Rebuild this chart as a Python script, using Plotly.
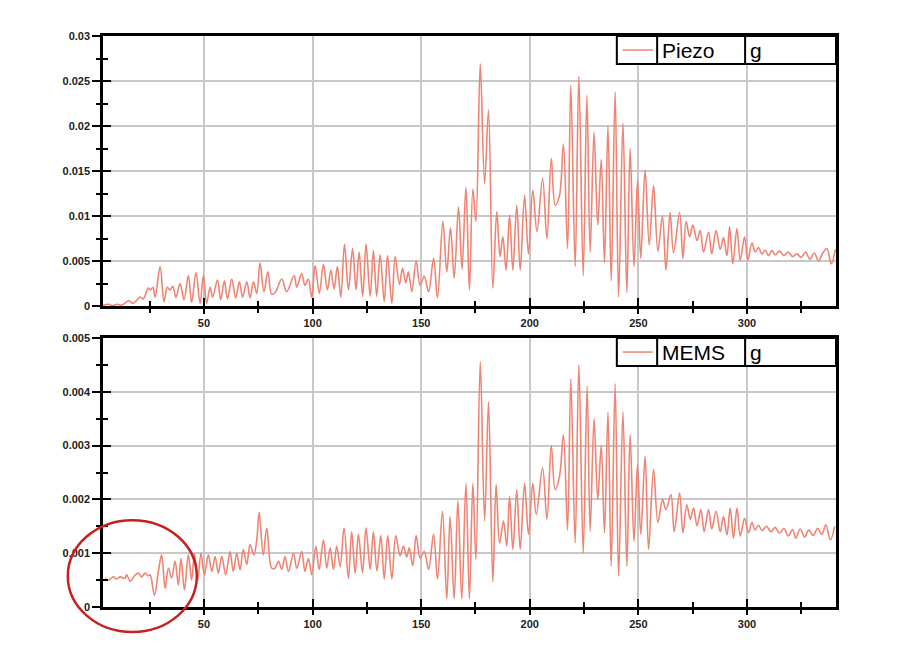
import plotly.graph_objects as go

# Piezo signal, peaks and troughs
piezo_x = [3.6, 6, 8, 10, 12, 14, 15.5, 17, 18.5, 20.5, 22, 24.4, 25.5, 26.5, 27.5, 29.8, 31.6, 33.1, 34.3, 35.6,
           37.1, 39, 40.8, 42.8, 44.3, 46.3, 48.2, 49.7, 51.2, 52.8, 54, 56.2, 57.7, 59.4, 60.8, 62.8, 64.6, 66.3,
           67.8, 69.7, 71.2, 72.8, 74.3, 75.8, 77.6, 79.4, 81.2, 83, 85.8, 88.1, 91.5, 92.7, 95, 96.5, 98, 99.6,
           101.2, 103.1, 105, 106.8, 108.4, 109.9, 111.4, 113, 114.7, 116.5, 118.4, 120, 121.4, 123.1, 124.6,
           126.5, 128, 129.5, 131.1, 133, 134.5, 136.5, 138, 140, 141.4, 142.9, 144.1, 145.7, 147.7, 149.5, 151.4,
           153.4, 155.7, 157.5, 160, 161.8, 163.5, 165.2, 167.2, 168.8, 170.6, 172.2, 173.8, 175.2, 177.2, 179.2,
           181, 183, 184.8, 186.3, 187.6, 189.1, 190.7, 192.2, 194, 195.6, 197.6, 199.4, 201.4, 203.3, 205.9,
           207.9, 209.9, 211.7, 213.7, 215.5, 217.4, 218.9, 220.9, 222.6, 224.6, 226.3, 227.8, 229.6, 231.3,
           232.9, 234.4, 236, 237.5, 239.3, 240.9, 242.9, 244.7, 246.2, 248, 249.6, 251.1, 253.1, 255, 257, 259,
           261.1, 262.7, 264.6, 266.2, 269, 270.5, 272, 273.6, 275.1, 277, 278.5, 280, 282.3, 283.8, 285.8, 287.7,
           289.2, 290.8, 292, 293.5, 295.4, 296.9, 298.9, 300.4, 302.3, 303.8, 305.3, 306.9, 308.4, 310, 311.5,
           313, 315, 317, 319, 321, 323, 325, 327, 329, 331, 333, 334.7, 336.8, 338.8, 340.7]
piezo_y = [0.0001, 0.0002, 0.00005, 0.0002, 0.0001, 0.0004, 0.0006, 0.0003, 0.0005, 0.001, 0.0008, 0.002, 0.0018,
           0.0021, 0.001, 0.0044, 0.0005, 0.0021, 0.0018, 0.0022, 0.001, 0.0025, 0.0007, 0.0034, 0.0004, 0.0037,
           0.0003, 0.0034, 0.0003, 0.0021, 0.001, 0.0029, 0.0007, 0.0028, 0.0008, 0.003, 0.0009, 0.0027, 0.001,
           0.0027, 0.0009, 0.0027, 0.0014, 0.0048, 0.0016, 0.0038, 0.0013, 0.0016, 0.003, 0.0016, 0.0034, 0.0021,
           0.0036, 0.0023, 0.003, 0.001, 0.0045, 0.0014, 0.0046, 0.0018, 0.004, 0.0019, 0.0044, 0.001, 0.0069,
           0.0018, 0.0064, 0.0018, 0.006, 0.0011, 0.0069, 0.0011, 0.0062, 0.0011, 0.0057, 0.0005, 0.0056, 0.0003,
           0.0055, 0.0024, 0.0042, 0.0026, 0.0038, 0.0016, 0.005, 0.0023, 0.0033, 0.0016, 0.0053, 0.0009, 0.0094,
           0.0038, 0.0087, 0.0031, 0.011, 0.0041, 0.0132, 0.0018, 0.013, 0.0094, 0.0269, 0.0136, 0.0218, 0.002,
           0.0105, 0.0055, 0.0077, 0.004, 0.0101, 0.004, 0.0112, 0.004, 0.0123, 0.0058, 0.0129, 0.0083, 0.0142,
           0.0075, 0.0164, 0.0112, 0.0123, 0.018, 0.0064, 0.0245, 0.0044, 0.0255, 0.0034, 0.0234, 0.006, 0.0193,
           0.009, 0.0163, 0.0048, 0.02, 0.0028, 0.0238, 0.001, 0.0203, 0.0015, 0.0175, 0.0044, 0.014, 0.0053,
           0.0151, 0.0068, 0.0134, 0.0061, 0.01, 0.004, 0.0104, 0.0059, 0.0104, 0.0053, 0.0094, 0.0077, 0.009,
           0.0073, 0.0084, 0.006, 0.0082, 0.0058, 0.0084, 0.0063, 0.0076, 0.0056, 0.0088, 0.0047, 0.0086, 0.0051,
           0.0077, 0.0051, 0.007, 0.006, 0.0065, 0.0058, 0.0062, 0.0056, 0.0062, 0.0057, 0.0061, 0.0056, 0.006,
           0.0055, 0.0058, 0.0054, 0.006, 0.0052, 0.0059, 0.005, 0.0058, 0.0064, 0.0047, 0.0063]

# MEMS signal, peaks and troughs
mems_x = [4.4, 6, 8.3, 9.8, 11.3, 13.6, 14.4, 16, 18.2, 19.8, 21.3, 22.9, 24.4, 25.2, 27.2, 29, 30.5, 32.1, 33.6,
          35.1, 36.7, 38.2, 39.4, 41, 42.8, 44.3, 45.6, 47.1, 48.6, 50.2, 52, 53.6, 55.1, 56.6, 58.2, 60, 62, 63.5,
          65.1, 66.6, 68.1, 69.7, 71.2, 73, 74.3, 75.4, 77.3, 78.9, 81.2, 82.7, 84.3, 85.8, 87.3, 88.9, 91.2, 92.7,
          95, 96.5, 98.1, 99.6, 101.5, 103, 105, 106.5, 108.1, 109.6, 111.1, 112.7, 114.5, 116.5, 118, 119.6,
          121.1, 123, 124.6, 126.5, 128, 129.6, 131.4, 133, 134.6, 136.5, 138.3, 140.3, 141.8, 143.4, 144.5, 146.1,
          147.7, 149.5, 151.4, 153.4, 155.7, 157.5, 159.8, 161.8, 163.3, 165.2, 166.9, 168.7, 170.6, 172.2, 173.8,
          175.2, 177.2, 179.2, 181, 183, 184.5, 186.1, 187.9, 189.4, 190.7, 192.2, 194, 195.6, 197.6, 199.4, 201.4,
          203, 205.9, 207.9, 209.9, 211.7, 213.7, 215.5, 217.4, 218.9, 220.9, 222.6, 224.6, 226.4, 227.8, 229.6,
          231.3, 232.9, 234.4, 236, 237.5, 239.3, 240.9, 242.9, 244.7, 246.2, 248, 249.6, 251.1, 253.1, 254.7, 257,
          259, 261.1, 262.7, 265, 266.5, 269, 270.5, 272.3, 273.9, 275.4, 277, 278.8, 280.3, 282.3, 283.8, 285.8,
          287.7, 289.2, 290.8, 292.3, 293.8, 295.4, 296.9, 298.9, 300.7, 302.3, 303.8, 305.3, 307, 309, 311, 313,
          315, 317, 319, 321, 322.5, 324.5, 326.5, 328.5, 330.5, 332.5, 334.5, 336.3, 338.4, 340.4]
mems_y = [0.00054, 0.0005, 0.00056, 0.00052, 0.00056, 0.00053, 0.0006, 0.00048, 0.00059, 0.00063, 0.00056, 0.00063,
          0.00058, 0.0006, 0.00022, 0.00066, 0.00097, 0.00035, 0.00072, 0.00054, 0.00085, 0.00041, 0.0009, 0.00032,
          0.00097, 0.0005, 0.001, 0.00049, 0.001, 0.0006, 0.00097, 0.00066, 0.00094, 0.00063, 0.00094, 0.0006,
          0.00103, 0.00066, 0.001, 0.00069, 0.00107, 0.00079, 0.00116, 0.00097, 0.00125, 0.00176, 0.00097, 0.00147,
          0.00072, 0.00072, 0.00085, 0.0007, 0.00094, 0.00066, 0.001, 0.00072, 0.00103, 0.00066, 0.0009, 0.0006,
          0.00113, 0.0007, 0.00125, 0.00072, 0.0011, 0.0007, 0.00113, 0.00075, 0.00147, 0.00053, 0.0014, 0.00063,
          0.00135, 0.00064, 0.00147, 0.0007, 0.0014, 0.00067, 0.00133, 0.00052, 0.00133, 0.00052, 0.00133, 0.00095,
          0.00113, 0.00093, 0.0011, 0.00077, 0.00133, 0.00091, 0.00103, 0.0007, 0.00135, 0.00052, 0.00178, 0.00015,
          0.00168, 0.00015, 0.00198, 0.00015, 0.0023, 0.00015, 0.0023, 0.00088, 0.00456, 0.0016, 0.00381, 0.00047,
          0.00228, 0.00119, 0.0016, 0.00113, 0.00206, 0.00107, 0.00218, 0.00107, 0.0023, 0.00135, 0.0023, 0.00172,
          0.00259, 0.00163, 0.003, 0.00218, 0.00243, 0.0032, 0.00143, 0.00424, 0.00119, 0.0045, 0.001, 0.0041,
          0.00141, 0.0035, 0.002, 0.003, 0.00138, 0.00362, 0.00076, 0.00415, 0.00057, 0.00362, 0.00076, 0.0032,
          0.00122, 0.00265, 0.00135, 0.0028, 0.00107, 0.00256, 0.00157, 0.002, 0.00181, 0.00209, 0.0014, 0.00212,
          0.00138, 0.0019, 0.00163, 0.00184, 0.00151, 0.00181, 0.0014, 0.00181, 0.00145, 0.00178, 0.0014, 0.00168,
          0.00134, 0.00184, 0.00128, 0.00184, 0.00132, 0.00165, 0.00138, 0.00157, 0.00143, 0.00152, 0.00142, 0.0015,
          0.0014, 0.00148, 0.00137, 0.00146, 0.00132, 0.00144, 0.00128, 0.00145, 0.0013, 0.00143, 0.00133, 0.00146,
          0.00135, 0.00153, 0.00125, 0.0015]

series_names = ["Piezo", "MEMS"]
unit_label = "g"
x_ticks = [50, 100, 150, 200, 250, 300]

LINE = "#f08474"
GRID = "#c8c8c8"
TICKFONT = dict(family="Liberation Sans, Arial", size=11, color="#222", weight="bold")

fig = go.Figure()
fig.add_trace(go.Scatter(x=piezo_x, y=piezo_y, mode="lines", line=dict(color=LINE, width=1.6, shape="spline", smoothing=1.0),
                         xaxis="x", yaxis="y", showlegend=False))
fig.add_trace(go.Scatter(x=mems_x, y=mems_y, mode="lines", line=dict(color=LINE, width=1.6, shape="spline", smoothing=1.0),
                         xaxis="x2", yaxis="y2", showlegend=False))
# empty traces so the inner-tick overlay axes get drawn
fig.add_trace(go.Scatter(x=[], y=[], xaxis="x3", yaxis="y3", showlegend=False))
fig.add_trace(go.Scatter(x=[], y=[], xaxis="x4", yaxis="y4", showlegend=False))

xr = [3.5, 341]


def xax(**kw):
    d = dict(range=xr, tickvals=x_ticks, ticks="outside", ticklen=5, tickwidth=2, tickcolor="black",
             minor=dict(dtick=25, tick0=0, ticks="outside", ticklen=4, tickwidth=2, tickcolor="black", showgrid=False),
             showline=True, linewidth=2.5, linecolor="black", mirror=True,
             showgrid=True, gridcolor=GRID, gridwidth=1.5, zeroline=False, tickfont=TICKFONT)
    d.update(kw)
    return d


def yax(top, minor, **kw):
    d = dict(range=[0, top], dtick=top / 6 if top > 0.01 else top / 5, ticks="outside", ticklen=8, tickwidth=2,
             tickcolor="black",
             minor=dict(dtick=minor, ticks="outside", ticklen=4, tickwidth=2, tickcolor="black", showgrid=False),
             showline=True, linewidth=2.5, linecolor="black", mirror=True,
             showgrid=True, gridcolor=GRID, gridwidth=1.5, zeroline=False, tickfont=TICKFONT)
    d.update(kw)
    return d


def inner(d):
    d = dict(d)
    d.update(ticks="inside", showticklabels=False, showgrid=False, showline=False, ticklen=8)
    d["minor"] = dict(d["minor"], ticks="inside", ticklen=5)
    return d


top_y = yax(0.03, 0.0025, domain=[0.527, 1], anchor="x")
bot_y = yax(0.005, 0.0005, domain=[0, 0.471], anchor="x2")

# page body has an 8px margin, so the figure is drawn slightly smaller
fig.update_layout(
    width=892, height=650,
    margin=dict(l=95, r=64, t=28, b=51),
    paper_bgcolor="white", plot_bgcolor="white",
    xaxis=xax(anchor="y"),
    yaxis=top_y,
    xaxis2=xax(anchor="y2"),
    yaxis2=bot_y,
    xaxis3=inner(xax(overlaying="x", anchor="y3")),
    yaxis3=inner(dict(top_y, overlaying="y", anchor="x3")),
    xaxis4=inner(xax(overlaying="x2", anchor="y4")),
    yaxis4=inner(dict(bot_y, overlaying="y2", anchor="x4")),
)

# legend-like boxes in the top-right corner of each panel
for xref, yref, name in [("x domain", "y domain", series_names[0]), ("x2 domain", "y2 domain", series_names[1])]:
    fig.add_shape(type="rect", xref=xref, yref=yref, x0=0.701, x1=1.0, y0=0.896, y1=1.0,
                  line=dict(color="black", width=2), fillcolor="white", layer="above")
    for xd in (0.756, 0.876):
        fig.add_shape(type="line", xref=xref, yref=yref, x0=xd, x1=xd, y0=0.896, y1=1.0,
                      line=dict(color="black", width=2), layer="above")
    fig.add_shape(type="line", xref=xref, yref=yref, x0=0.709, x1=0.750, y0=0.948, y1=0.948,
                  line=dict(color=LINE, width=1.5), layer="above")
    fig.add_annotation(xref=xref, yref=yref, x=0.760, y=0.948, text=name, showarrow=False, xanchor="left",
                       yanchor="middle", font=dict(family="Liberation Sans, Arial", size=21, color="black"))
    fig.add_annotation(xref=xref, yref=yref, x=0.880, y=0.948, text=unit_label, showarrow=False, xanchor="left",
                       yanchor="middle", font=dict(family="Liberation Sans, Arial", size=21, color="black"))

# red ellipse around the start of the MEMS trace
fig.add_shape(type="circle", xref="x2 domain", yref="y2 domain", x0=-0.048, x1=0.128, y0=-0.093, y1=0.323,
              line=dict(color="#c8201e", width=2.5), layer="above")

fig.write_html("out.html")
